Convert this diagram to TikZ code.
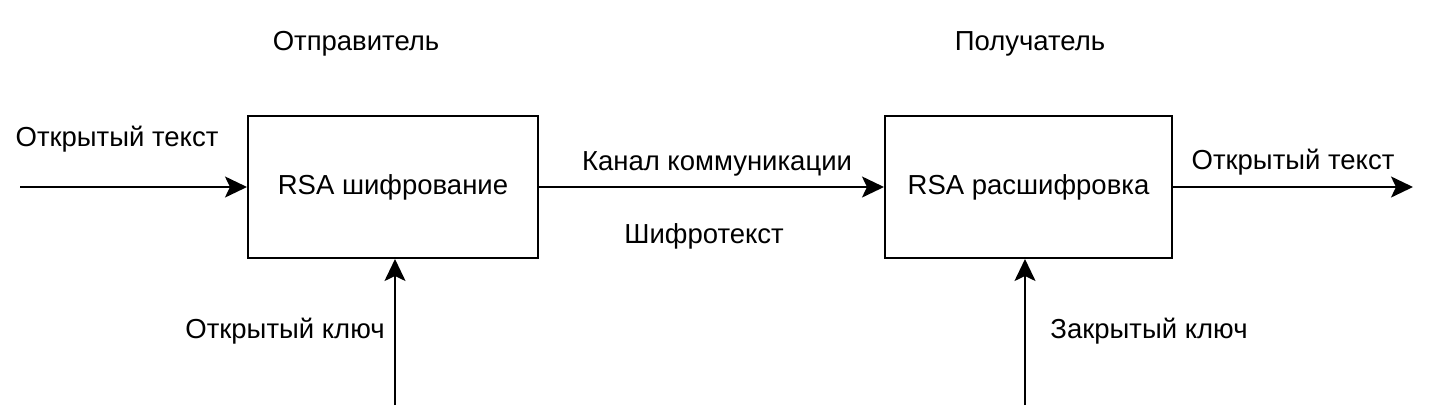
\documentclass[tikz,border=0pt]{standalone}
\usepackage{fontspec}
\setmainfont{Liberation Sans}
\usetikzlibrary{arrows.meta}

\begin{document}
\begin{tikzpicture}[x=1pt,y=-1pt,
  blk/.style={draw, line width=2pt, minimum width=290pt, minimum height=142pt, inner sep=0pt},
  lbl/.style={inner sep=0pt, font=\fontsize{27.5}{32}\selectfont},
  arr/.style={line width=2pt, -{Stealth[length=22pt,width=21pt,inset=5pt]}}]
\useasboundingbox (0,0) rectangle (1440,416);

\node[blk, lbl] (enc) at (393,187) {RSA шифрование};
\node[blk, lbl, minimum width=287pt] (dec) at (1028.5,187) {RSA расшифровка};

\coordinate (src) at (20,187);
\coordinate (dst) at (1413,187);
\coordinate (pubkey) at (395,405);
\coordinate (privkey) at (1025,405);

\node[lbl] (sender) at (356,44) {Отправитель};
\node[lbl] (receiver) at (1030,44) {Получатель};
\node[lbl] (plainin) at (117,139) {Открытый текст};
\node[lbl] (channel) at (717,164) {Канал коммуникации};
\node[lbl] (cipher) at (704,236) {Шифротекст};
\node[lbl] (plainout) at (1293,162) {Открытый текст};
\node[lbl] (pubtxt) at (285,331) {Открытый ключ};
\node[lbl] (privtxt) at (1149,331) {Закрытый ключ};

\draw[arr] (src) -- (enc.west |- src);
\draw[arr] (enc.east |- src) -- (dec.west |- src);
\draw[arr] (dec.east |- dst) -- (dst);
\draw[arr] (pubkey) -- (pubkey |- enc.south);
\draw[arr] (privkey) -- (privkey |- dec.south);

\end{tikzpicture}
\end{document}
